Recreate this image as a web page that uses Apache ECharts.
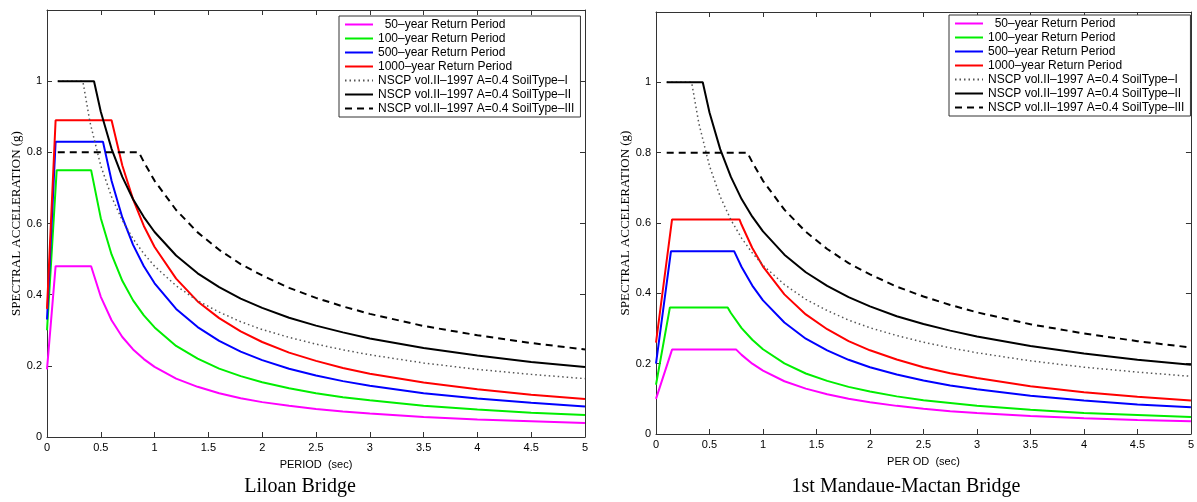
<!DOCTYPE html>
<html><head><meta charset="utf-8">
<script src="https://cdn.jsdelivr.net/npm/echarts@6/dist/echarts.min.js"></script>
<style>html,body{margin:0;padding:0;background:#fff;}#c{width:1197px;height:502px;}</style>
</head><body><div id="c"></div>
<script>
// ---------- data ----------
const seriesNames = ['  50–year Return Period','100–year Return Period','500–year Return Period','1000–year Return Period',
  'NSCP vol.II–1997 A=0.4 SoilType–I','NSCP vol.II–1997 A=0.4 SoilType–II','NSCP vol.II–1997 A=0.4 SoilType–III'];
const xTickLabels = ['0','0.5','1','1.5','2','2.5','3','3.5','4','4.5','5'];
const yTickLabels = ['0','0.2','0.4','0.6','0.8','1',''];
const captions = ['Liloan Bridge','1st Mandaue-Mactan Bridge'];
const xNames = ['PERIOD  (sec)','PER OD  (sec)'];

// Liloan Bridge
const liloan50 = [[0,0.19],[0.08,0.48],[0.41,0.48],[0.5,0.394],[0.6,0.328],[0.7,0.281],[0.8,0.246],[0.9,0.219],[1.0,0.197],[1.2,0.164],[1.4,0.141],[1.6,0.123],[1.8,0.109],[2.0,0.098],[2.25,0.088],[2.5,0.079],[2.75,0.072],[3,0.066],[3.5,0.056],[4,0.049],[4.5,0.044],[5,0.039]];
const liloan100 = [[0,0.30],[0.09,0.75],[0.41,0.75],[0.5,0.615],[0.6,0.513],[0.7,0.439],[0.8,0.384],[0.9,0.342],[1.0,0.308],[1.2,0.256],[1.4,0.220],[1.6,0.192],[1.8,0.171],[2.0,0.154],[2.25,0.137],[2.5,0.123],[2.75,0.112],[3,0.103],[3.5,0.088],[4,0.077],[4.5,0.068],[5,0.062]];
const liloan500 = [[0,0.33],[0.08,0.83],[0.52,0.83],[0.6,0.72],[0.7,0.617],[0.8,0.54],[0.9,0.48],[1.0,0.432],[1.2,0.36],[1.4,0.309],[1.6,0.27],[1.8,0.24],[2.0,0.216],[2.25,0.192],[2.5,0.173],[2.75,0.157],[3,0.144],[3.5,0.123],[4,0.108],[4.5,0.096],[5,0.086]];
const liloan1000 = [[0,0.36],[0.08,0.89],[0.6,0.89],[0.7,0.763],[0.8,0.668],[0.9,0.593],[1.0,0.534],[1.2,0.445],[1.4,0.381],[1.6,0.334],[1.8,0.297],[2.0,0.267],[2.25,0.237],[2.5,0.214],[2.75,0.194],[3,0.178],[3.5,0.153],[4,0.134],[4.5,0.119],[5,0.107]];

// 1st Mandaue-Mactan Bridge
const mandaue50 = [[0,0.10],[0.15,0.24],[0.75,0.24],[0.8,0.225],[0.9,0.2],[1.0,0.18],[1.2,0.15],[1.4,0.129],[1.6,0.113],[1.8,0.1],[2.0,0.09],[2.25,0.08],[2.5,0.072],[2.75,0.065],[3,0.06],[3.5,0.051],[4,0.045],[4.5,0.04],[5,0.036]];
const mandaue100 = [[0,0.14],[0.13,0.36],[0.67,0.36],[0.7,0.344],[0.8,0.301],[0.9,0.268],[1.0,0.241],[1.2,0.201],[1.4,0.172],[1.6,0.151],[1.8,0.134],[2.0,0.121],[2.25,0.107],[2.5,0.096],[2.75,0.088],[3,0.080],[3.5,0.069],[4,0.060],[4.5,0.054],[5,0.048]];
const mandaue500 = [[0,0.20],[0.14,0.52],[0.73,0.52],[0.8,0.475],[0.9,0.422],[1.0,0.38],[1.2,0.317],[1.4,0.271],[1.6,0.238],[1.8,0.211],[2.0,0.19],[2.25,0.169],[2.5,0.152],[2.75,0.138],[3,0.127],[3.5,0.109],[4,0.095],[4.5,0.084],[5,0.076]];
const mandaue1000 = [[0,0.26],[0.15,0.61],[0.78,0.61],[0.8,0.595],[0.9,0.529],[1.0,0.476],[1.2,0.397],[1.4,0.34],[1.6,0.298],[1.8,0.264],[2.0,0.238],[2.25,0.212],[2.5,0.19],[2.75,0.173],[3,0.159],[3.5,0.136],[4,0.119],[4.5,0.106],[5,0.095]];

// NSCP code spectra (same in both panels)
const nscpSoil1 = [[0.1,1.0],[0.333,1.0],[0.4,0.884],[0.5,0.762],[0.6,0.675],[0.7,0.609],[0.8,0.557],[0.9,0.515],[1.0,0.48],[1.2,0.425],[1.4,0.383],[1.6,0.351],[1.8,0.324],[2.0,0.302],[2.25,0.28],[2.5,0.261],[2.75,0.245],[3,0.231],[3.5,0.208],[4,0.19],[4.5,0.176],[5,0.164]];
const nscpSoil2 = [[0.1,1.0],[0.437,1.0],[0.5,0.914],[0.6,0.81],[0.7,0.731],[0.8,0.668],[0.9,0.618],[1.0,0.576],[1.2,0.51],[1.4,0.46],[1.6,0.421],[1.8,0.389],[2.0,0.363],[2.25,0.335],[2.5,0.313],[2.75,0.294],[3,0.277],[3.5,0.25],[4,0.229],[4.5,0.211],[5,0.197]];
const nscpSoil3 = [[0.1,0.8],[0.854,0.8],[0.9,0.773],[1.0,0.72],[1.2,0.638],[1.4,0.575],[1.6,0.526],[1.8,0.486],[2.0,0.454],[2.25,0.419],[2.5,0.391],[2.75,0.367],[3,0.346],[3.5,0.312],[4,0.286],[4.5,0.264],[5,0.246]];

// ---------- chart ----------
const panels = [
  {grid:{left:47, top:10, width:538, height:427}, data:[liloan50,liloan100,liloan500,liloan1000,nscpSoil1,nscpSoil2,nscpSoil3], legend:{left:339, top:16}, cap:{x:300,y:487}, yGap:15},
  {grid:{left:656, top:12, width:536, height:422}, data:[mandaue50,mandaue100,mandaue500,mandaue1000,nscpSoil1,nscpSoil2,nscpSoil3], legend:{left:949, top:15}, cap:{x:906,y:487}, yGap:23}
];
const styles = [
  {color:'#ff00ff', width:2, type:'solid'},
  {color:'#00ee00', width:2, type:'solid'},
  {color:'#0000ff', width:2, type:'solid'},
  {color:'#ff0000', width:2, type:'solid'},
  {color:'#555555', width:1.5, type:[1.5,3]},
  {color:'#000000', width:2, type:'solid'},
  {color:'#000000', width:2, type:[7,5]}
];
const axisCol = '#333';
const sans = '"Liberation Sans", Arial, sans-serif';
const serif = '"Liberation Serif", "Times New Roman", serif';

const grids=[], xAxes=[], yAxes=[], series=[], legends=[], graphics=[];
panels.forEach((p, pi) => {
  grids.push(Object.assign({containLabel:false}, p.grid));
  const baseX = {type:'value', gridIndex:pi, min:0, max:5, interval:0.5,
    axisLine:{show:true, onZero:false, lineStyle:{color:axisCol, width:1}},
    axisTick:{show:true, inside:true, length:5, lineStyle:{color:axisCol}},
    splitLine:{show:false}};
  xAxes.push(Object.assign({}, baseX, {position:'bottom',
    axisLabel:{show:true, margin:5, fontSize:11, color:'#000', fontFamily:sans, formatter:(v,i)=>xTickLabels[i]},
    name:xNames[pi], nameLocation:'middle', nameGap:22, nameTextStyle:{fontSize:11, color:'#000', fontFamily:sans}}));
  xAxes.push(Object.assign({}, baseX, {position:'top', axisLabel:{show:false}}));
  const baseY = {type:'value', gridIndex:pi, min:0, max:1.2, interval:0.2,
    axisLine:{show:true, onZero:false, lineStyle:{color:axisCol, width:1}},
    axisTick:{show:true, inside:true, length:5, lineStyle:{color:axisCol}},
    splitLine:{show:false}};
  yAxes.push(Object.assign({}, baseY, {position:'left',
    axisLabel:{show:true, margin:5, fontSize:11, color:'#000', fontFamily:sans, formatter:(v,i)=>yTickLabels[i]},
    name:'SPECTRAL ACCELERATION (g)', nameLocation:'middle', nameGap:p.yGap, nameRotate:90,
    nameTextStyle:{fontSize:13, color:'#000', fontFamily:serif}}));
  yAxes.push(Object.assign({}, baseY, {position:'right', axisLabel:{show:false}}));
  p.data.forEach((d, si) => {
    series.push({type:'line', name:seriesNames[si], xAxisIndex:pi*2, yAxisIndex:pi*2,
      data:d, showSymbol:false, symbol:'none', smooth:false, animation:false,
      lineStyle:{color:styles[si].color, width:styles[si].width, type:styles[si].type},
      itemStyle:{color:styles[si].color}, z: si>=4 ? 3 : 2});
  });
  legends.push({orient:'vertical', left:p.legend.left, top:p.legend.top, data:seriesNames,
    backgroundColor:'#fff', borderColor:'#333', borderWidth:1, padding:[2,6,2,5],
    itemGap:1, itemWidth:28, itemHeight:11, selectedMode:false,
    itemStyle:{opacity:0, color:'rgba(0,0,0,0)', borderWidth:0},
    textStyle:{fontSize:12, lineHeight:13, color:'#000', fontFamily:sans}});
  graphics.push({type:'text', x:p.cap.x, y:p.cap.y,
    style:{text:captions[pi], font:'20px "Liberation Serif", "Times New Roman", serif', fill:'#000',
      textAlign:'center', align:'center', textVerticalAlign:'middle', verticalAlign:'middle'}});
});

const chart = echarts.init(document.getElementById('c'), null, {renderer:'canvas'});
chart.setOption({backgroundColor:'#fff', animation:false, grid:grids, xAxis:xAxes, yAxis:yAxes,
  series:series, legend:legends, graphic:graphics});
</script></body></html>
